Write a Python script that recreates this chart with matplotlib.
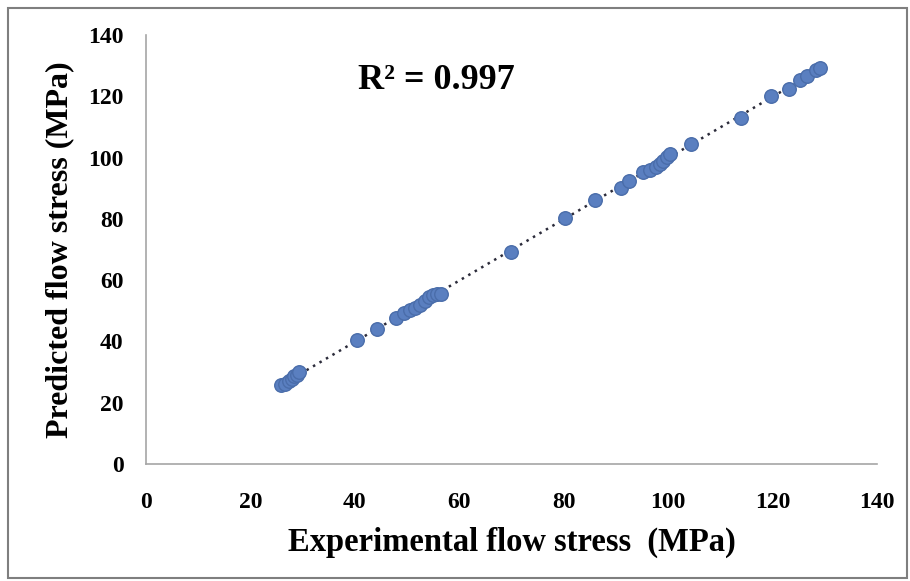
import matplotlib.pyplot as plt
import numpy as np
from matplotlib.patches import Rectangle

# experimental vs predicted flow stress (MPa)
experimental = [25.8, 26.6, 27.3, 27.9, 28.4, 28.9, 29.4, 40.5, 44.2, 47.8, 49.5,
                50.6, 51.6, 52.5, 53.4, 54.2, 55.0, 55.8, 56.5, 70.0, 80.2, 86.0,
                91.0, 92.6, 95.2, 96.6, 97.6, 98.4, 99.1, 99.7, 100.3, 104.3, 114.0,
                119.8, 123.2, 125.2, 126.6, 128.3, 129.0]
predicted = [25.8, 26.2, 27.0, 27.8, 28.6, 29.2, 30.0, 40.6, 44.0, 47.6, 49.2,
             50.3, 50.8, 52.0, 53.2, 54.6, 55.3, 55.4, 55.6, 69.2, 80.4, 86.0,
             90.2, 92.2, 95.3, 96.0, 97.0, 97.8, 99.0, 100.3, 101.0, 104.4, 112.8,
             120.2, 122.4, 125.3, 126.6, 128.6, 129.2]
r2_text = "R² = 0.997"

plt.rcParams["font.family"] = ["Liberation Serif", "DejaVu Serif"]
plt.rcParams["font.weight"] = "bold"

fig = plt.figure(figsize=(9.1, 5.81), dpi=100)
ax = fig.add_axes([0.1604, 0.2014, 0.8033, 0.7384])

x = np.array(experimental)
y = np.array(predicted)

# linear trendline
coef = np.polyfit(x, y, 1)
xl = np.array([x.min(), x.max()])
ax.plot(xl, np.polyval(coef, xl), linestyle=(0, (1, 2)), color="#2b2b3a",
        linewidth=1.8, zorder=2)

ax.scatter(x, y, s=95, color="#5A7FC0", edgecolor="#4A6DAA", linewidth=1.0,
           zorder=3)

ax.text(0.29, 0.895, r2_text, transform=ax.transAxes, fontsize=26,
        fontweight="bold", va="center", ha="left")

ax.set_xlim(0, 140)
ax.set_ylim(0, 140)
ax.set_xticks(np.arange(0, 141, 20))
ax.set_yticks(np.arange(0, 141, 20))
ax.tick_params(length=0, labelsize=17)
ax.tick_params(axis="x", pad=20)
ax.tick_params(axis="y", pad=16)
for lab in ax.get_xticklabels() + ax.get_yticklabels():
    lab.set_fontweight("bold")

for side in ["top", "right"]:
    ax.spines[side].set_visible(False)
for side in ["left", "bottom"]:
    ax.spines[side].set_color("#a6a6a6")
    ax.spines[side].set_linewidth(1.2)

ax.set_xlabel("Experimental flow stress  (MPa)", fontsize=23.5, fontweight="bold",
              labelpad=10)
ax.set_ylabel("Predicted flow stress (MPa)", fontsize=23, fontweight="bold",
              labelpad=10)

# outer frame around the chart
fig.patches.append(Rectangle((0.009, 0.006), 0.988, 0.981, transform=fig.transFigure,
                             fill=False, edgecolor="#7f7f7f", linewidth=1.5))

fig.savefig("out.png", dpi=100)
